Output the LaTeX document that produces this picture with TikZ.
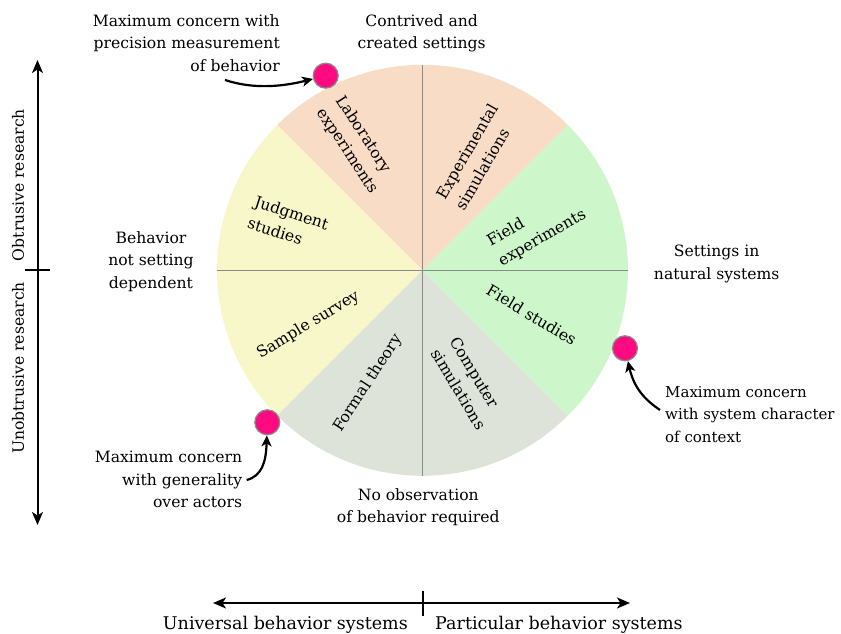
\documentclass[tikz,border=0pt]{standalone}
\usepackage{fontspec}
\setmainfont{DejaVu Serif}
\usetikzlibrary{arrows.meta}
\definecolor{peach}{HTML}{F8DCC5}
\definecolor{paleyellow}{HTML}{F8F7C9}
\definecolor{palegray}{HTML}{DDE3D9}
\definecolor{palegreen}{HTML}{CDF7CA}
\definecolor{dotpink}{HTML}{FF0A80}
\definecolor{divider}{HTML}{8A8A8A}
\begin{document}
\begin{tikzpicture}[x=1pt,y=1pt,
  txt/.style={inner sep=0pt, font=\fontsize{15.6}{22.5}\selectfont},
  smalltxt/.style={inner sep=0pt, font=\fontsize{15}{22.5}\selectfont},
  bigtxt/.style={inner sep=0pt, font=\fontsize{17.5}{22.5}\selectfont},
  seclabel/.style={txt, align=left},
  dot/.style={circle, fill=dotpink, draw=divider, line width=1.2pt, minimum size=25pt, inner sep=0pt},
  pointer/.style={line width=2.2pt, -{Stealth[length=11pt,width=10pt,inset=3pt]}},
  axis/.style={line width=2pt, -{Stealth[length=13pt,width=11pt,inset=3.5pt]}},
  tick/.style={line width=2pt},
  sep/.style={draw=divider, line width=1.4pt}]
\useasboundingbox (0,0) rectangle (841,634);
\coordinate (C) at (422.5,363.7);
% sectors
\fill[peach] (C) -- ([shift={(45:205.5)}]C) arc[start angle=45,end angle=135,radius=205.5] -- cycle;
\fill[paleyellow] (C) -- ([shift={(135:205.5)}]C) arc[start angle=135,end angle=225,radius=205.5] -- cycle;
\fill[palegray] (C) -- ([shift={(225:205.5)}]C) arc[start angle=225,end angle=315,radius=205.5] -- cycle;
\fill[palegreen] (C) -- ([shift={(315:205.5)}]C) arc[start angle=315,end angle=405,radius=205.5] -- cycle;
\coordinate (Ctop) at ([shift={(90:205.5)}]C);
\coordinate (Cbot) at ([shift={(270:205.5)}]C);
\coordinate (Cleft) at ([shift={(180:205.5)}]C);
\coordinate (Cright) at ([shift={(0:205.5)}]C);
\draw[sep] (Ctop) -- (Cbot);
\draw[sep] (Cleft) -- (Cright);
% sector labels
\node[seclabel, rotate=-57] (lab) at (356.7,489) {Laboratory\\experiments};
\node[seclabel, rotate=60] (expsim) at (476.7,477.3) {Experimental\\simulations};
\node[seclabel, rotate=30] (fieldexp) at (536.7,405.7) {Field\\experiments};
\node[seclabel, rotate=-31] (fieldst) at (531.7,319) {Field studies};
\node[seclabel, rotate=-59] (compsim) at (468.3,250.7) {Computer\\simulations};
\node[seclabel, rotate=57] (formal) at (368.3,250.7) {Formal theory};
\node[seclabel, rotate=31] (sample) at (308.3,309) {Sample survey};
\node[seclabel, rotate=-18] (judg) at (288.3,410.7) {Judgment\\studies};
% outer labels
\node[txt, align=right, anchor=north east] (tprec) at (280,619.9) {Maximum concern with\\precision measurement\\of behavior};
\node[txt, align=center, anchor=north] (tcontr) at (421.7,619.9) {Contrived and\\created settings};
\node[txt, align=center, anchor=north] (tbeh) at (151,402.6) {Behavior\\not setting\\dependent};
\node[txt, align=center, anchor=north] (tnat) at (716.7,389.2) {Settings in\\natural systems};
\node[smalltxt, align=left, anchor=north west] (tsys) at (665,247.9) {Maximum concern\\with system character\\of context};
\node[txt, align=right, anchor=north east] (tgen) at (242.3,182.9) {Maximum concern\\with generality\\over actors};
\node[txt, align=center, anchor=north] (tnoobs) at (418.3,145.9) {No observation\\of behavior required};
\node[bigtxt, anchor=base east] (tuniv) at (408,4) {Universal behavior systems};
\node[bigtxt, anchor=base west] (tpart) at (435,4) {Particular behavior systems};
\node[txt, rotate=90, anchor=base] (tobt) at (24,449) {Obtrusive research};
\node[txt, rotate=90, anchor=base] (tunobt) at (24,266) {Unobtrusive research};
% dots
\node[dot] (d1) at (325.7,558.3) {};
\node[dot] (d2) at (625,285.7) {};
\node[dot] (d3) at (267.3,211.7) {};
% pointers
\coordinate (p1) at (225,554);
\coordinate (p2) at (660,224);
\coordinate (p3) at (246.7,154);
\draw[pointer] (p1) .. controls (255,544) and (285,548) .. (d1);
\draw[pointer] (p2) .. controls (645,234) and (634,246) .. (d2);
\draw[pointer] (p3) .. controls (262,158) and (266,172) .. (d3);
% axes
\coordinate (vmid) at (37.5,364);
\coordinate (vtop) at (37.5,574);
\coordinate (vbot) at (37.5,109);
\coordinate (vtl) at (25,364);
\coordinate (vtr) at (50,364);
\draw[axis] (vmid) -- (vtop);
\draw[axis] (vmid) -- (vbot);
\draw[tick] (vtl) -- (vtr);
\coordinate (hmid) at (422.7,31);
\coordinate (hleft) at (213,31);
\coordinate (hright) at (630,31);
\coordinate (htt) at (422.7,43);
\coordinate (htb) at (422.7,18);
\draw[axis] (hmid) -- (hleft);
\draw[axis] (hmid) -- (hright);
\draw[tick] (htt) -- (htb);
\end{tikzpicture}
\end{document}
